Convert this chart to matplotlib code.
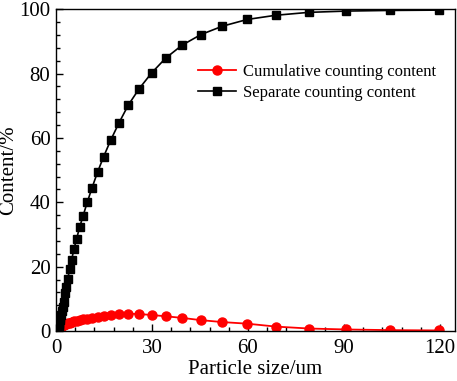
import matplotlib
matplotlib.use("Agg")
from matplotlib import pyplot as plt
from matplotlib.ticker import MultipleLocator

# particle sizes (um)
size = [0.4, 0.46, 0.53, 0.61, 0.7, 0.8, 0.92, 1.06, 1.22, 1.4, 1.6, 1.84, 2.12, 2.43,
        2.8, 3.2, 3.7, 4.25, 4.9, 5.6, 6.45, 7.4, 8.5, 9.8, 11.3, 13.0, 14.9, 17.1,
        19.7, 22.6, 26.0, 29.9, 34.3, 39.4, 45.3, 52.0, 59.8, 68.7, 79.0, 90.8,
        104.3, 119.8]

# red circles
cumulative = [0.5, 0.6, 0.7, 0.8, 0.9, 1.0, 1.1, 1.2, 1.3, 1.45, 1.6, 1.7, 1.85, 2.0,
              2.15, 2.3, 2.5, 2.65, 2.85, 3.0, 3.2, 3.4, 3.65, 3.9, 4.2, 4.5, 4.8, 5.1,
              5.3, 5.4, 5.3, 5.0, 4.6, 4.1, 3.4, 2.8, 2.3, 1.4, 0.8, 0.5, 0.3, 0.2]

# black squares
separate = [0.3, 0.4, 0.6, 0.8, 1.1, 1.5, 2.0, 2.6, 3.3, 4.1, 5.0, 6.1, 7.5, 9.0,
            11.7, 13.8, 16.3, 19.2, 22.2, 25.4, 28.7, 32.3, 35.9, 40.1, 44.6, 49.4,
            54.2, 59.3, 64.7, 70.2, 75.3, 80.2, 84.8, 88.8, 92.1, 94.7, 96.8, 98.1,
            99.0, 99.4, 99.6, 99.7]

plt.rcParams['font.family'] = ['Liberation Serif', 'DejaVu Serif']

fig = plt.figure(figsize=(4.57, 3.81), dpi=100)
ax = fig.add_axes([0.1225, 0.131, 0.873, 0.845])

ax.plot(size, cumulative, "-o", color="red", lw=1.3, ms=6.5, label="Cumulative counting content")
ax.plot(size, separate, "-s", color="black", lw=1.2, ms=5.5, label="Separate counting content")

ax.set_xlim(0, 124.7)
ax.set_ylim(0, 100)
ax.xaxis.set_major_locator(MultipleLocator(30))
ax.xaxis.set_minor_locator(MultipleLocator(6))
ax.yaxis.set_major_locator(MultipleLocator(20))
ax.yaxis.set_minor_locator(MultipleLocator(4))
ax.tick_params(which="major", direction="in", length=5, width=1, labelsize=15)
ax.tick_params(axis="x", which="major", pad=6)
ax.tick_params(axis="y", which="major", pad=4)
ax.tick_params(which="minor", direction="in", length=3, width=1)
for s in ax.spines.values():
    s.set_linewidth(1)

ax.set_xlabel("Particle size/um", fontsize=15, labelpad=1)
ax.set_ylabel("Content/%", fontsize=15, labelpad=1)

ax.legend(loc="upper left", bbox_to_anchor=(0.355, 0.83), frameon=False, fontsize=12,
          handlelength=2.3, handletextpad=0.4, labelspacing=0.3, borderpad=0,
          borderaxespad=0)

fig.savefig("out.png", dpi=100)
